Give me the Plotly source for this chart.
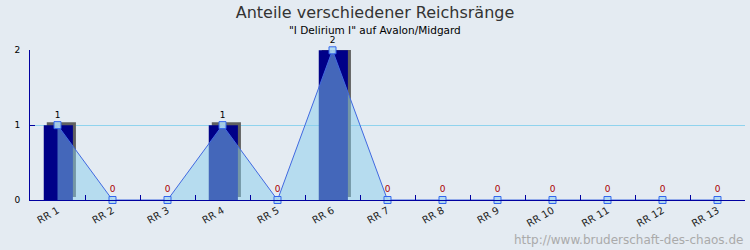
import plotly.graph_objects as go

categories = ["RR 1", "RR 2", "RR 3", "RR 4", "RR 5", "RR 6", "RR 7",
              "RR 8", "RR 9", "RR 10", "RR 11", "RR 12", "RR 13"]
values = [1, 0, 0, 1, 0, 2, 0, 0, 0, 0, 0, 0, 0]
title_text = "Anteile verschiedener Reichsränge"
subtitle_text = "\"I Delirium I\" auf Avalon/Midgard"
watermark = "http://www.bruderschaft-des-chaos.de"

BG = "#e4ebf2"
AXIS = "#0000a0"
FONT = "DejaVu Sans"

bar_vals = [v if v > 0 else None for v in values]
label_colors = ["#000000" if v > 0 else "#aa0000" for v in values]

fig = go.Figure()
# shadow
fig.add_trace(go.Bar(
    x=categories, y=bar_vals, base=0.04, width=0.53, offset=-0.195,
    marker=dict(color="#606060", line=dict(width=0)), hoverinfo="skip",
))
# bars
fig.add_trace(go.Bar(
    x=categories, y=bar_vals, width=0.53, offset=-0.25,
    marker=dict(color="#000088", line=dict(width=0)),
))
# area
fig.add_trace(go.Scatter(
    x=categories, y=values, mode="lines+markers+text",
    fill="tozeroy", fillcolor="rgba(135,206,235,0.5)",
    line=dict(color="#4169e1", width=1),
    marker=dict(symbol="square", size=7, color="rgba(173,216,240,0.9)",
                line=dict(color="#3366ee", width=1)),
    text=[str(v) for v in values], textposition="top center",
    textfont=dict(size=9, color=label_colors, family=FONT),
    cliponaxis=False,
))

fig.update_layout(
    width=750, height=250,
    margin=dict(l=30, r=5, t=50, b=50),
    paper_bgcolor=BG, plot_bgcolor=BG,
    barmode="overlay", showlegend=False,
    font=dict(family=FONT, size=9, color="#000000"),
    title=dict(text=title_text, x=0.5, xanchor="center", y=0.952, yanchor="middle",
               font=dict(size=16, color="#333333", family=FONT)),
    annotations=[
        dict(text=subtitle_text, xref="paper", yref="paper", x=0.5, y=1.0,
             xshift=-13, yshift=20, xanchor="center", yanchor="middle", showarrow=False,
             font=dict(size=10.5, color="#000000", family=FONT)),
        dict(text=watermark, xref="paper", yref="paper", x=1.0, y=0,
             xshift=0, yshift=-40, xanchor="right", yanchor="middle", showarrow=False,
             font=dict(size=12, color="#aaaaaa", family=FONT)),
    ],
    xaxis=dict(
        type="category", range=[-0.5, 12.5], showline=True, linecolor=AXIS, linewidth=1,
        ticks="inside", tickson="boundaries", ticklen=5, tickcolor=AXIS,
        tickangle=-30, showgrid=False, zeroline=False,
        tickfont=dict(size=10, color="#222222", family=FONT), fixedrange=True,
    ),
    yaxis=dict(
        range=[0, 2.004], tickvals=[0, 1, 2], showline=True, linecolor=AXIS, linewidth=1,
        ticks="inside", ticklen=5, tickcolor=AXIS, showgrid=True, gridcolor="#8fd3ee",
        gridwidth=1, zeroline=False, tickfont=dict(size=9, color="#000000", family=FONT),
        fixedrange=True, ticklabelstandoff=7,
    ),
)

fig.write_html("out.html")
